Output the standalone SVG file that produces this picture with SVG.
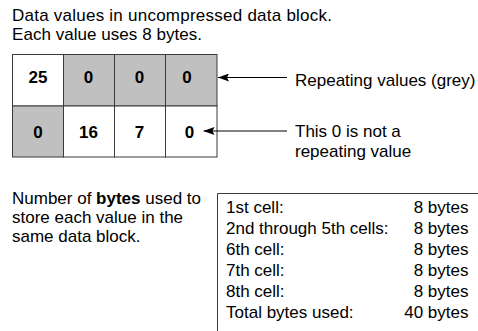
<svg xmlns="http://www.w3.org/2000/svg" width="478" height="331" viewBox="0 0 478 331">
  <style>
    text { font-family: "Liberation Sans", Arial, sans-serif; font-size: 17px; fill: #000; }
    .num { font-weight: bold; text-anchor: middle; }
    .cell { stroke: #3a3a3a; stroke-width: 1; }
    .plain { fill: #ffffff; }
    .grey { fill: #c0c0c0; }
    .conn { stroke: #000; stroke-width: 1; fill: none; }
    .val { text-anchor: end; }
    .frame { stroke: #3a3a3a; stroke-width: 1; fill: none; }
  </style>
  <defs>
    <!-- solid, slightly notched arrowhead; tip sits on the line end -->
    <marker id="head" viewBox="0 0 11 8" refX="11" refY="4" markerWidth="11" markerHeight="8" markerUnits="userSpaceOnUse" orient="auto">
      <path d="M11,4 L0,0 L2,4 L0,8 Z" fill="#000"/>
    </marker>
  </defs>

  <rect width="478" height="331" fill="#ffffff"/>

  <g id="caption-top">
    <text x="12" y="20.5" textLength="320" lengthAdjust="spacing">Data values in uncompressed data block.</text>
    <text x="12" y="39.5" textLength="190" lengthAdjust="spacing">Each value uses 8 bytes.</text>
  </g>

  <g id="block">
    <g id="row1">
      <rect class="cell plain" x="12.5" y="54.5" width="51" height="51.5"/>
      <rect class="cell grey" x="63.5" y="54.5" width="51" height="51.5"/>
      <rect class="cell grey" x="114.5" y="54.5" width="51" height="51.5"/>
      <rect class="cell grey" x="165.5" y="54.5" width="51.5" height="51.5"/>
      <text class="num" x="38" y="82.5">25</text>
      <text class="num" x="88.5" y="82.5">0</text>
      <text class="num" x="139.5" y="82.5">0</text>
      <text class="num" x="187" y="82.5">0</text>
    </g>
    <g id="row2">
      <rect class="cell grey" x="12.5" y="106" width="51" height="51"/>
      <rect class="cell plain" x="63.5" y="106" width="51" height="51"/>
      <rect class="cell plain" x="114.5" y="106" width="51" height="51"/>
      <rect class="cell plain" x="165.5" y="106" width="51.5" height="51"/>
      <text class="num" x="38" y="138">0</text>
      <text class="num" x="88.5" y="138">16</text>
      <text class="num" x="139.5" y="138">7</text>
      <text class="num" x="189.5" y="138">0</text>
    </g>
  </g>

  <g id="connectors">
    <line class="conn" x1="287" y1="77.5" x2="218" y2="77.5" marker-end="url(#head)"/>
    <line class="conn" x1="287" y1="131" x2="203.5" y2="131" marker-end="url(#head)"/>
  </g>

  <g id="label-repeating">
    <text x="295" y="86">Repeating values (grey)</text>
  </g>
  <g id="label-not-repeating">
    <text x="295" y="137">This 0 is not a</text>
    <text x="295" y="157">repeating value</text>
  </g>

  <g id="caption-bottom">
    <text x="12" y="204">Number of <tspan font-weight="bold">bytes</tspan> used to</text>
    <text x="12" y="223">store each value in the</text>
    <text x="12" y="242">same data block.</text>
  </g>

  <g id="byte-table">
    <path class="frame" d="M217.5,331 V193.5 H478"/>
    <text x="226" y="213">1st cell:</text>
    <text x="226" y="234">2nd through 5th cells:</text>
    <text x="226" y="255">6th cell:</text>
    <text x="226" y="276">7th cell:</text>
    <text x="226" y="297">8th cell:</text>
    <text x="226" y="318">Total bytes used:</text>
    <text class="val" x="468.5" y="213">8 bytes</text>
    <text class="val" x="468.5" y="234">8 bytes</text>
    <text class="val" x="468.5" y="255">8 bytes</text>
    <text class="val" x="468.5" y="276">8 bytes</text>
    <text class="val" x="468.5" y="297">8 bytes</text>
    <text class="val" x="468.5" y="318">40 bytes</text>
  </g>
</svg>
